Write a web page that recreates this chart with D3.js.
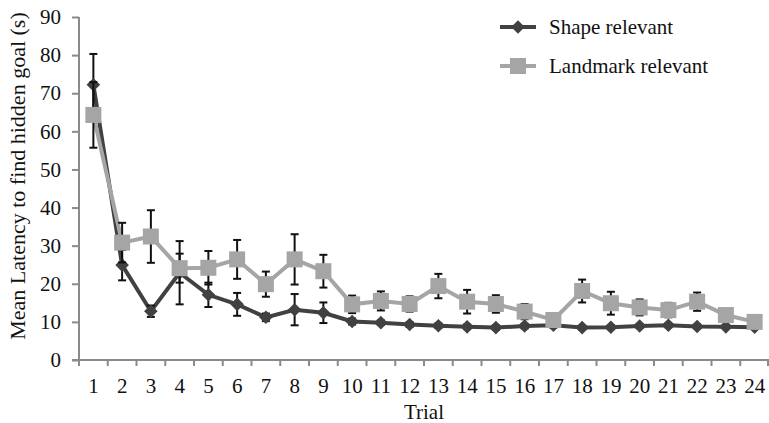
<!DOCTYPE html>
<html>
<head>
<meta charset="utf-8">
<script src="https://cdn.jsdelivr.net/npm/d3@7/dist/d3.min.js"></script>
<style>
  html, body { margin: 0; padding: 0; background: #fff; }
  svg { display: block; }
  text { font-family: "Liberation Serif", "Times New Roman", serif; fill: #111; }
</style>
</head>
<body>
<svg id="chart" width="769" height="423"></svg>
<script>
const trials = d3.range(1, 25).map(String);
const yTicks = [0, 10, 20, 30, 40, 50, 60, 70, 80, 90];
const shapeValues = [72.2, 24.9, 12.8, 22.9, 17.1, 14.6, 11.2, 13.2, 12.4, 10.1, 9.8, 9.3, 9.0, 8.7, 8.5, 8.9, 9.1, 8.5, 8.6, 8.9, 9.1, 8.8, 8.7, 8.6];
const shapeErrors = [8.1, 4.0, 1.5, 8.3, 3.2, 3.0, 1.0, 4.1, 2.7, 0.8, 0.6, 0.6, 0.6, 0.6, 0.6, 0.6, 0.6, 0.5, 0.5, 0.5, 0.5, 0.5, 0.5, 0.5];
const landmarkValues = [64.3, 30.8, 32.4, 24.1, 24.2, 26.4, 19.9, 26.4, 23.3, 14.6, 15.5, 14.7, 19.4, 15.3, 14.7, 12.7, 10.5, 18.1, 14.9, 13.8, 13.1, 15.3, 11.8, 10.0];
const landmarkErrors = [8.6, 5.2, 6.9, 3.8, 4.4, 5.1, 3.3, 6.6, 4.3, 2.3, 2.5, 2.0, 3.2, 3.1, 2.3, 2.0, 1.0, 3.0, 3.0, 2.1, 1.9, 2.4, 1.2, 1.0];
const seriesNames = ["Shape relevant", "Landmark relevant"];
const xTitle = "Trial";
const yTitle = "Mean Latency to find hidden goal (s)";

(function () {
const FONT = '"Liberation Serif", "Times New Roman", serif';
const svg = d3.select("#chart");
const pLeft = 79, pRight = 769, pTop = 17, pBottom = 360;
const axisColor = "#8a8a8a";
const shapeColor = "#414141";
const landmarkColor = "#a5a5a5";

const x = d3.scaleBand().domain(trials).range([pLeft, pRight]);
const y = d3.scaleLinear().domain([0, 90]).range([pBottom, pTop]);
const cx = d => x(d) + x.bandwidth() / 2;

// Y axis
const yAxis = svg.append("g").attr("transform", `translate(${pLeft},0)`)
  .call(d3.axisLeft(y).tickValues(yTicks).tickSize(7).tickPadding(11).tickFormat(d3.format("d")));
yAxis.attr("font-family", FONT);
yAxis.select(".domain").attr("stroke", axisColor).attr("stroke-width", 2)
  .attr("d", `M0,${pTop}V${pBottom}`);
yAxis.selectAll(".tick line").attr("stroke", axisColor).attr("stroke-width", 2);
yAxis.selectAll(".tick text").style("font-size", "21px").attr("fill", "#111")
  .style("font-family", FONT);

// X axis
const xAxis = svg.append("g").attr("transform", `translate(0,${pBottom})`)
  .call(d3.axisBottom(x).tickSize(0).tickPadding(0));
xAxis.attr("font-family", FONT);
xAxis.select(".domain").attr("stroke", axisColor).attr("stroke-width", 2)
  .attr("d", `M${pLeft - 7},0H${pRight}`);
xAxis.selectAll(".tick text").style("font-size", "21px").attr("fill", "#111")
  .attr("y", 33).attr("dy", 0)
  .style("font-family", FONT);
const bounds = trials.map(t => x(t)).concat([pRight - 1]);
xAxis.selectAll(".bound").data(bounds).enter().append("line")
  .attr("x1", d => d).attr("x2", d => d).attr("y1", 0).attr("y2", 6)
  .attr("stroke", axisColor).attr("stroke-width", 2);

// Titles
svg.append("text").attr("x", 424).attr("y", 419).attr("text-anchor", "middle")
  .style("font-family", FONT).style("font-size", "21px").text(xTitle);
svg.append("text").attr("transform", "translate(25,176) rotate(-90)")
  .attr("text-anchor", "middle").style("font-family", FONT).style("font-size", "22px").text(yTitle);

const line = vals => d3.line().x((d, i) => cx(trials[i])).y(d => y(d))(vals);
const diamond = d3.symbol().type(d3.symbolSquare).size(92);

function errorBars(vals, errs) {
  const g = svg.append("g").attr("stroke", "#111").attr("stroke-width", 2);
  vals.forEach((v, i) => {
    const xx = cx(trials[i]);
    const y1 = y(v + errs[i]), y2 = y(v - errs[i]);
    g.append("line").attr("x1", xx).attr("x2", xx).attr("y1", y1).attr("y2", y2);
    g.append("line").attr("x1", xx - 4).attr("x2", xx + 4).attr("y1", y1).attr("y2", y1);
    g.append("line").attr("x1", xx - 4).attr("x2", xx + 4).attr("y1", y2).attr("y2", y2);
  });
}

// Shape series
svg.append("path").attr("d", line(shapeValues)).attr("fill", "none")
  .attr("stroke", shapeColor).attr("stroke-width", 4);
errorBars(shapeValues, shapeErrors);
svg.append("g").selectAll("path").data(shapeValues).enter().append("path")
  .attr("d", diamond)
  .attr("transform", (d, i) => `translate(${cx(trials[i])},${y(d)}) rotate(45)`)
  .attr("fill", shapeColor);

// Landmark series
svg.append("path").attr("d", line(landmarkValues)).attr("fill", "none")
  .attr("stroke", landmarkColor).attr("stroke-width", 4);
errorBars(landmarkValues, landmarkErrors);
svg.append("g").selectAll("rect").data(landmarkValues).enter().append("rect")
  .attr("x", (d, i) => cx(trials[i]) - 8).attr("y", d => y(d) - 8)
  .attr("width", 16).attr("height", 16).attr("fill", landmarkColor);

// Legend
const lg = svg.append("g");
const ly = [27, 66];
lg.append("line").attr("x1", 500).attr("x2", 536).attr("y1", ly[0]).attr("y2", ly[0])
  .attr("stroke", shapeColor).attr("stroke-width", 4);
lg.append("path").attr("d", diamond)
  .attr("transform", `translate(518,${ly[0]}) rotate(45)`).attr("fill", shapeColor);
lg.append("line").attr("x1", 500).attr("x2", 536).attr("y1", ly[1]).attr("y2", ly[1])
  .attr("stroke", landmarkColor).attr("stroke-width", 4);
lg.append("rect").attr("x", 510).attr("y", ly[1] - 8).attr("width", 16).attr("height", 16)
  .attr("fill", landmarkColor);
seriesNames.forEach((n, i) => {
  lg.append("text").attr("x", 549).attr("y", ly[i] + 7)
    .style("font-family", FONT).style("font-size", "21px").text(n);
});
})();
</script>
</body>
</html>
